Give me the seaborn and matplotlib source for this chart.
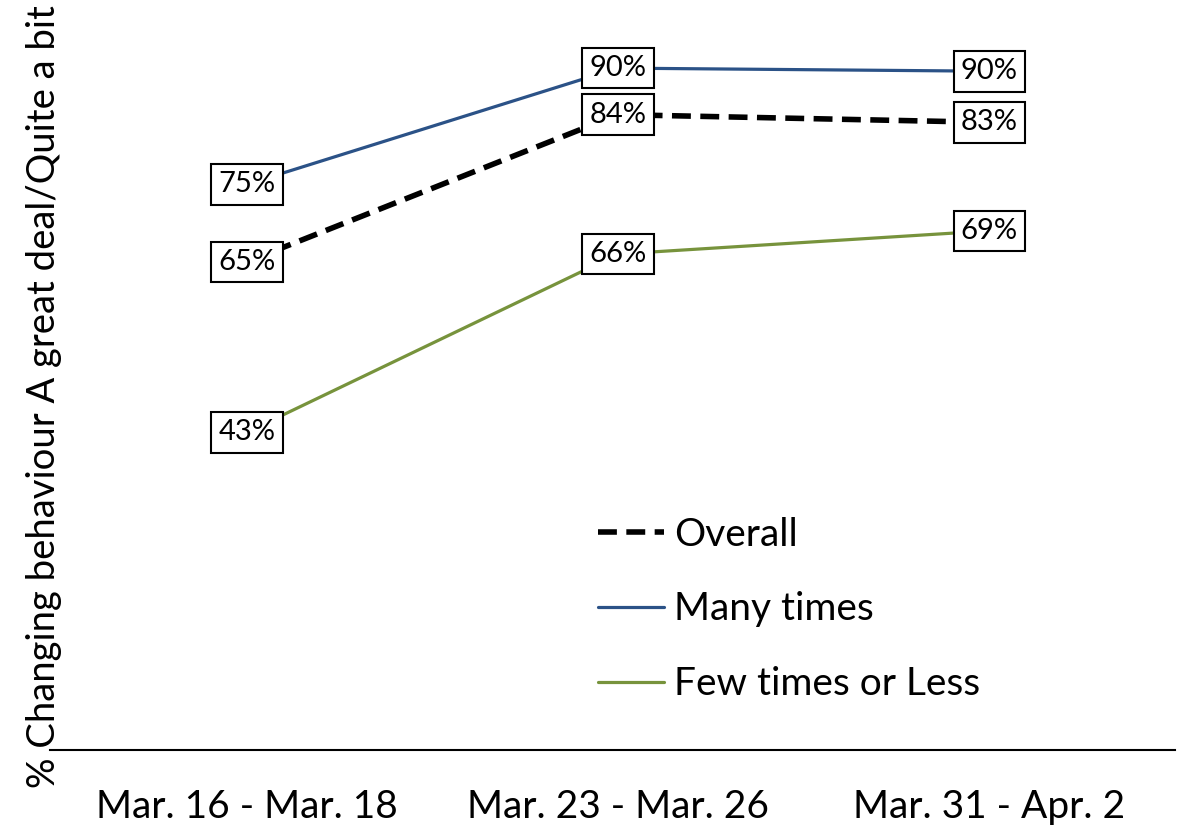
import pandas as pd
import matplotlib.pyplot as plt
import seaborn as sns

sns.set_style('white')
plt.rcParams['font.family'] = ['Lato', 'DejaVu Sans']
plt.rcParams['text.color'] = 'black'
plt.rcParams['axes.labelcolor'] = 'black'
plt.rcParams['xtick.color'] = 'black'

periods = ['Mar. 16 - Mar. 18', 'Mar. 23 - Mar. 26', 'Mar. 31 - Apr. 2']
overall = [65, 84, 83]
many_times = [75, 90, 89.6]
few_times = [43, 66, 69]
groups = ['Overall', 'Many times', 'Few times or Less']
colors = {'Overall': '#000000', 'Many times': '#2B5287', 'Few times or Less': '#77933C'}

df = pd.DataFrame({
    'period': periods * 3,
    'value': overall + many_times + few_times,
    'group': [g for g in groups for _ in periods],
})

fig = plt.figure(figsize=(11.83, 8.3), dpi=100)
ax = fig.add_axes([50 / 1183, 80 / 830, 1125 / 1183, 740 / 830])

dash = (3.4, 1.7)
sns.lineplot(data=df, x='period', y='value', hue='group', style='group',
             palette=colors, dashes={'Overall': dash, 'Many times': '', 'Few times or Less': ''},
             hue_order=groups, style_order=groups, ax=ax, legend=False, zorder=2)
for line, lw in zip(ax.lines, [4.0, 2.3, 2.3]):
    line.set_linewidth(lw)

for g in groups:
    sub = df[df['group'] == g]
    for j, v in enumerate(sub['value']):
        ax.text(j, v, f'{v:.0f}%', ha='center', va='center', fontsize=21, zorder=5, color='black',
                bbox=dict(boxstyle='square,pad=0.25', fc='white', ec='black', lw=1.5))

handles = [plt.Line2D([], [], color=colors[g], lw=lw, ls=ls)
           for g, lw, ls in zip(groups, [4.0, 2.3, 2.3], [(0, dash), '-', '-'])]
ax.legend(handles, groups, loc='center left', bbox_to_anchor=(0.456, 0.19), frameon=False,
          fontsize=28, handlelength=1.7, handletextpad=0.25, labelspacing=1.0, labelcolor='black')

ax.set_xlim(-0.53, 2.5)
ax.set_ylim(2, 97.5)
ax.set_yticks([])
ax.set_xlabel('')
ax.set_ylabel('% Changing behaviour A great deal/Quite a bit', fontsize=27.5, color='black')
ax.yaxis.set_label_coords(0.011, 0.478)
ax.tick_params(axis='x', length=0, pad=28, labelsize=28, labelcolor='black')
for s in ['top', 'right', 'left']:
    ax.spines[s].set_visible(False)
ax.spines['bottom'].set_linewidth(1.5)
ax.spines['bottom'].set_color('black')

fig.savefig('out.png', dpi=100)
